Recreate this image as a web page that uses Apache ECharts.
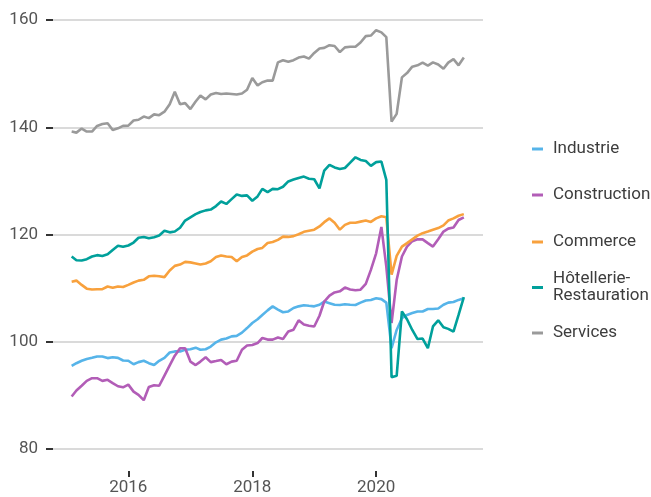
<!DOCTYPE html>
<html>
<head>
<meta charset="utf-8">
<script src="https://cdn.jsdelivr.net/npm/echarts@6/dist/echarts.min.js"></script>
<style>
html,body{margin:0;padding:0;background:#fff;}
#chart{width:651px;height:497px;}
</style>
</head>
<body>
<div id="chart"></div>
<script>
const months = [
'2015-02','2015-03','2015-04','2015-05','2015-06','2015-07','2015-08','2015-09','2015-10','2015-11','2015-12',
'2016-01','2016-02','2016-03','2016-04','2016-05','2016-06','2016-07','2016-08','2016-09','2016-10','2016-11','2016-12',
'2017-01','2017-02','2017-03','2017-04','2017-05','2017-06','2017-07','2017-08','2017-09','2017-10','2017-11','2017-12',
'2018-01','2018-02','2018-03','2018-04','2018-05','2018-06','2018-07','2018-08','2018-09','2018-10','2018-11','2018-12',
'2019-01','2019-02','2019-03','2019-04','2019-05','2019-06','2019-07','2019-08','2019-09','2019-10','2019-11','2019-12',
'2020-01','2020-02','2020-03','2020-04','2020-05','2020-06','2020-07','2020-08','2020-09','2020-10','2020-11','2020-12',
'2021-01','2021-02','2021-03','2021-04','2021-05','2021-06'
];

const industrie = [95.5,96.0,96.45,96.8,97.0,97.25,97.25,96.95,97.1,97.0,96.5,96.45,95.8,96.2,96.45,96.0,95.65,96.45,97.0,98.0,98.2,98.2,98.5,98.6,98.9,98.5,98.6,99.1,99.9,100.4,100.6,101.0,101.1,101.7,102.55,103.5,104.2,105.0,105.85,106.6,106.0,
105.5,105.65,106.3,106.6,106.8,106.7,106.6,106.9,107.5,107.2,106.9,106.85,107.0,106.9,106.85,107.3,107.7,107.8,108.1,107.95,107.3,98.8,102.2,104.4,105.0,105.35,105.65,105.65,106.1,106.1,106.2,106.9,107.3,107.4,107.8,108.1];

const construction = [89.8,90.9,91.8,92.7,93.2,93.2,92.7,92.9,92.3,91.7,91.5,92.0,90.7,90.1,89.1,91.55,91.9,91.8,93.7,95.6,97.4,98.8,98.8,96.3,95.65,96.3,97.1,96.2,96.4,96.6,95.8,96.3,96.45,98.5,99.3,99.4,99.75,100.7,100.4,100.4,100.8,
100.5,101.9,102.25,104.0,103.2,103.0,102.85,104.85,107.5,108.6,109.2,109.4,110.1,109.75,109.6,109.7,110.8,113.4,116.5,121.4,114.0,103.5,111.5,115.9,117.75,118.75,119.1,119.1,118.4,117.75,119.1,120.55,121.1,121.3,122.7,123.2];

const commerce = [111.2,111.4,110.6,109.9,109.75,109.8,109.8,110.3,110.05,110.3,110.2,110.6,111.05,111.4,111.55,112.2,112.3,112.2,112.05,113.3,114.15,114.4,114.9,114.8,114.6,114.4,114.6,115.0,115.8,116.1,115.9,115.8,115.0,115.8,116.1,116.8,117.3,117.5,118.4,118.6,119.0,
119.6,119.55,119.7,120.05,120.5,120.7,120.9,121.5,122.3,123.0,122.2,120.9,121.8,122.2,122.2,122.4,122.6,122.35,123.0,123.4,123.2,112.5,116.0,117.75,118.4,119.1,119.8,120.25,120.55,120.9,121.2,121.7,122.6,123.0,123.5,123.8];

const hotellerie = [115.9,115.2,115.15,115.4,115.9,116.15,116.0,116.3,117.1,117.9,117.7,117.95,118.5,119.4,119.55,119.3,119.5,119.8,120.7,120.4,120.55,121.25,122.6,123.2,123.8,124.2,124.5,124.65,125.3,126.15,125.7,126.6,127.45,127.2,127.3,126.3,127.1,128.5,127.9,128.5,128.45,
128.9,129.9,130.25,130.55,130.8,130.4,130.3,128.6,131.9,133.0,132.5,132.2,132.4,133.4,134.4,133.9,133.7,132.8,133.5,133.6,130.2,93.4,93.65,105.65,104.2,102.2,100.5,100.6,98.8,102.85,104.0,102.7,102.4,101.9,105.0,108.3];

const services = [139.2,139.0,139.75,139.2,139.2,140.25,140.6,140.75,139.5,139.8,140.25,140.3,141.25,141.4,142.0,141.7,142.4,142.25,142.9,144.3,146.6,144.3,144.5,143.4,144.8,145.9,145.2,146.1,146.4,146.2,146.3,146.2,146.1,146.3,147.0,149.2,147.8,148.4,148.7,148.7,152.1,
152.5,152.2,152.5,153.0,153.2,152.8,153.85,154.7,154.8,155.3,155.15,154.0,154.9,155.0,155.0,155.8,157.0,157.1,158.1,157.7,156.8,141.05,142.5,149.3,150.1,151.3,151.55,152.05,151.5,152.1,151.7,150.9,152.05,152.7,151.55,153.0];

const seriesNames = ['Industrie','Construction','Commerce','Hôtellerie-Restauration','Services'];
const legendLabels = ['Industrie','Construction','Commerce','Hôtellerie-\nRestauration','Services'];
const colors = ['#56B4E9','#B25DB7','#F8A13D','#00A09B','#9A9A9A'];
const xTickYears = ['2016','2018','2020'];
const yTicks = [80,100,120,140,160];

const allValues = [industrie, construction, commerce, hotellerie, services];
const legendTops = [135.5, 181.5, 228.5, 265.5, 319.5];

function monthStamp(m) {
  const p = m.split('-');
  return new Date(+p[0], +p[1] - 1, 1).getTime();
}
const tickStamps = xTickYears.map(y => new Date(+y, 0, 1).getTime());

const chart = echarts.init(document.getElementById('chart'), null, {renderer: 'canvas'});
const FONT = 'Roboto';

const option = {
  animation: false,
  backgroundColor: '#ffffff',
  textStyle: {fontFamily: FONT},
  grid: {left: 53, right: 168, top: 20, bottom: 48, containLabel: false},
  xAxis: {
    type: 'value',
    min: new Date(2014, 9, 14).getTime(),
    max: new Date(2021, 8, 22).getTime(),
    offset: 22,
    axisLine: {show: false},
    axisTick: {show: true, customValues: tickStamps, length: 6, lineStyle: {color: '#333', width: 2}},
    splitLine: {show: false},
    axisLabel: {
      customValues: tickStamps,
      margin: 8,
      fontSize: 17,
      color: '#555',
      fontFamily: FONT,
      formatter: function (v) { return String(new Date(v).getFullYear()); }
    }
  },
  yAxis: {
    type: 'value',
    min: yTicks[0],
    max: yTicks[yTicks.length - 1],
    interval: 20,
    axisLine: {show: false},
    axisTick: {show: true, length: 7, lineStyle: {color: '#333', width: 2}},
    splitLine: {show: true, lineStyle: {color: '#dadada', width: 2}},
    axisLabel: {fontSize: 17, color: '#555', margin: 15, fontFamily: FONT}
  },
  legend: seriesNames.map((n, i) => ({
    data: [n],
    orient: 'vertical',
    left: 527,
    top: legendTops[i],
    icon: 'rect',
    itemWidth: 11,
    itemHeight: 3,
    selectedMode: false,
    formatter: function () { return legendLabels[i]; },
    textStyle: {fontSize: 17, color: '#3d3d3d', lineHeight: 17, fontFamily: FONT, padding: [0, 0, 0, 5]}
  })),
  series: seriesNames.map((n, i) => ({
    name: n,
    type: 'line',
    showSymbol: false,
    symbol: 'none',
    color: colors[i],
    lineStyle: {width: 2.6, color: colors[i]},
    data: months.map((m, k) => [monthStamp(m), allValues[i][k]])
  }))
};
chart.setOption(option);
</script>
</body>
</html>
